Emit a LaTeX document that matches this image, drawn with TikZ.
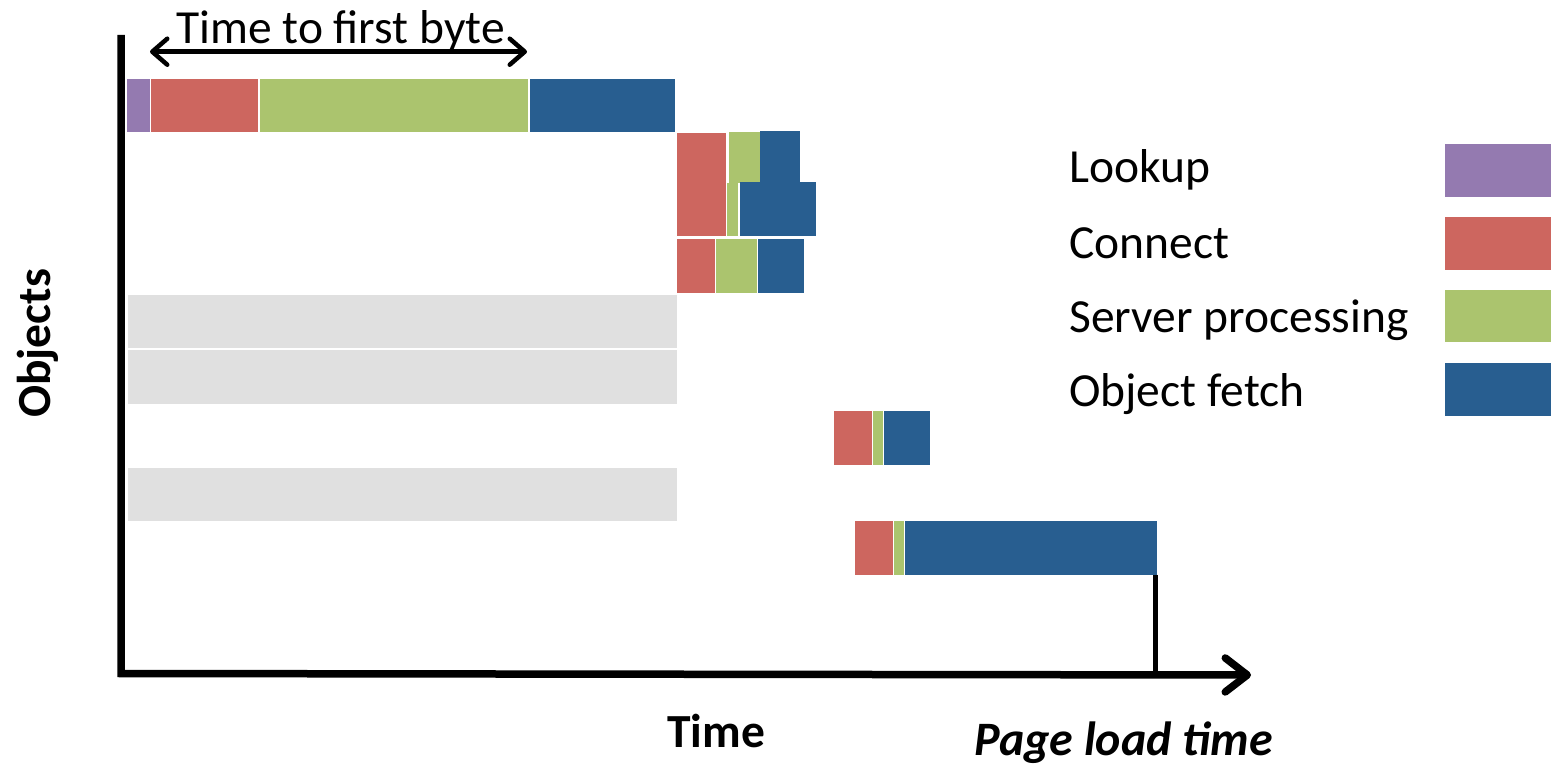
\documentclass[tikz,border=0pt]{standalone}
\usepackage{fontspec}
\setmainfont{Carlito}
\usetikzlibrary{arrows.meta,calc}
\definecolor{lookupc}{RGB}{148,122,176}
\definecolor{connectc}{RGB}{205,102,95}
\definecolor{serverc}{RGB}{171,196,110}
\definecolor{fetchc}{RGB}{40,94,144}
\definecolor{idlec}{RGB}{224,224,224}
\newcommand\segbar[6]{\node[segment, fill=#2, minimum width={(#5-#3)*1pt}, minimum height={(#6-#4)*1pt}] (#1) at (#3,#4) {};}
\tikzset{
  segment/.style={rectangle, draw=none, inner sep=0pt, outer sep=0pt, anchor=north west},
  lbl/.style={font=\fontsize{47.5}{56}\selectfont, inner sep=0pt, anchor=base west},
  axis/.style={line width=7.5pt, line join=miter, draw=black},
  ttfb/.style={line width=4.5pt, {Straight Barb[length=15pt,width=26pt,round]}-{Straight Barb[length=15pt,width=26pt,round]}},
}
\begin{document}
\begin{tikzpicture}[x=1pt,y=-1pt]
\useasboundingbox (0,0) rectangle (1551,767);
% row 1
\segbar{L1}{lookupc}{127}{79}{150}{132.5}
\segbar{C1}{connectc}{151}{79}{258}{132.5}
\segbar{S1}{serverc}{259.5}{79}{527.5}{132.5}
\segbar{F1}{fetchc}{530}{79}{674.5}{132.5}
% row 2
\segbar{C2}{connectc}{677}{133}{726}{184.5}
\segbar{S2}{serverc}{728.5}{132.5}{759.5}{183}
\segbar{F2}{fetchc}{760}{131.5}{799.5}{183}
% row 3
\segbar{C3}{connectc}{677}{184.5}{726}{236}
\segbar{S3}{serverc}{727}{183}{738}{236}
\segbar{F3}{fetchc}{740}{182.5}{816}{236.5}
% row 4
\segbar{C4}{connectc}{676.5}{239.5}{715}{293}
\segbar{S4}{serverc}{715.5}{239.5}{757}{293}
\segbar{F4}{fetchc}{758}{239.5}{804}{293}
% idle rows
\segbar{G1}{idlec}{128}{295}{677}{348.5}
\segbar{G2}{idlec}{128}{350}{677}{403.5}
\segbar{G3}{idlec}{128}{468}{677}{521}
% row 5
\segbar{C5}{connectc}{833.5}{411}{872}{465}
\segbar{S5}{serverc}{872.5}{411}{883}{465}
\segbar{F5}{fetchc}{883.5}{411}{930}{465}
% row 6
\segbar{C6}{connectc}{854.5}{521}{893}{574.5}
\segbar{S6}{serverc}{893.5}{521}{904}{574.5}
\segbar{F6}{fetchc}{904.5}{521}{1157}{574.5}
% legend swatches
\segbar{KL}{lookupc}{1445}{144}{1551}{197}
\segbar{KC}{connectc}{1445}{217}{1551}{270}
\segbar{KS}{serverc}{1445}{290}{1551}{342.5}
\segbar{KF}{fetchc}{1445}{363}{1551}{416}
% legend texts
\node[lbl] (tL) at (1069,182.7) {Lookup};
\node[lbl] (tC) at (1069,258.3) {Connect};
\node[lbl] (tS) at (1069,332.3) {Server processing};
\node[lbl] (tF) at (1069,406.7) {Object fetch};
% axes
\coordinate (ytop) at (121,35);
\coordinate (origin) at (121,673.5);
\coordinate (xend) at (1251,675);
\draw[axis, -{Straight Barb[length=22pt,width=34pt,round]}] (ytop) -- (origin) -- (xend);
\coordinate (plt) at ($(F6.south east)+(-2,0)$);
\draw[line width=5pt] (plt) -- (plt |- origin);
% time to first byte
\coordinate (ta) at (150,51.7);
\coordinate (tb) at (527,51.7);
\draw[ttfb] (ta) -- (tb);
\node[lbl] (ttl) at (176,43.3) {Time to first byte};
% axis labels
\node[lbl, font=\fontsize{47.5}{56}\selectfont\bfseries] (tx) at (667,747.7) {Time};
\node[lbl, font=\fontsize{48}{56}\selectfont\bfseries\itshape] (plx) at (974,755.5) {Page load time};
\node[lbl, font=\fontsize{47.5}{56}\selectfont\bfseries, rotate=90] (oy) at (50,418) {Objects};
\end{tikzpicture}
\end{document}
